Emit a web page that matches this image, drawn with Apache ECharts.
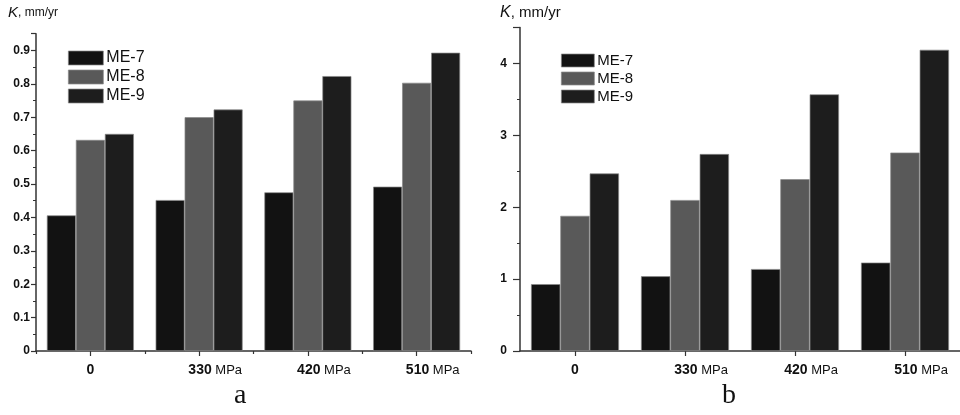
<!DOCTYPE html>
<html>
<head>
<meta charset="utf-8">
<script src="https://cdn.jsdelivr.net/npm/echarts@6/dist/echarts.min.js"></script>
<style>
  html, body { margin: 0; padding: 0; background: #fff; }
  #chart { width: 960px; height: 415px; }
</style>
</head>
<body>
<div id="chart"></div>
<script>
// categories (stress) and series values
const stressNumbers = ['0', '330', '420', '510'];
const seriesNames = ['ME-7', 'ME-8', 'ME-9'];

// panel a
const kA_me7 = [0.406, 0.452, 0.475, 0.492];
const kA_me8 = [0.632, 0.700, 0.750, 0.803];
const kA_me9 = [0.650, 0.723, 0.823, 0.893];

// panel b
const kB_me7 = [0.93, 1.04, 1.14, 1.23];
const kB_me8 = [1.88, 2.10, 2.39, 2.76];
const kB_me9 = [2.47, 2.74, 3.57, 4.19];

const colors = ['#121212', '#595959', '#1d1d1d'];

const chart = echarts.init(document.getElementById('chart'));

const labelFormatter = (v) => v === '0' ? '{b|0}' : '{sp| }{b|' + v + '}{m| MPa}';

const makeXAxis = (gridIndex, fs, ticksAtCenter) => ({
    type: 'category',
    gridIndex: gridIndex,
    position: 'bottom',
    data: stressNumbers,
    axisLine: { lineStyle: { color: '#333', width: 1.5 } },
    axisTick: { show: true, alignWithLabel: ticksAtCenter, length: ticksAtCenter ? 5 : 3, lineStyle: { color: '#333', width: 1.2 } },
    axisLabel: {
        interval: 0,
        margin: 12,
        formatter: labelFormatter,
        rich: {
            sp: { width: fs * 2.3, fontSize: fs - 1 },
            b: { fontFamily: 'Liberation Sans', fontWeight: 'bold', fontSize: fs, color: '#111' },
            m: { fontFamily: 'Liberation Sans', fontSize: fs - 1, color: '#111' }
        }
    }
});

const makeYAxis = (gridIndex, max, interval, labelMargin, tickLen, fs) => ({
    type: 'value',
    gridIndex: gridIndex,
    min: 0,
    max: max,
    interval: interval,
    axisLine: { show: true, lineStyle: { color: '#333', width: 1.5 } },
    axisTick: { show: true, length: tickLen, lineStyle: { color: '#333', width: 1.2 } },
    minorTick: { show: true, splitNumber: 2, length: 3, lineStyle: { color: '#333', width: 1 } },
    splitLine: { show: false },
    axisLabel: {
        showMaxLabel: false,
        margin: labelMargin,
        fontFamily: 'Liberation Sans',
        fontWeight: 'bold',
        fontSize: fs,
        color: '#111'
    }
});

const barSeries = (name, data, idx, axisIndex) => ({
    name: name,
    type: 'bar',
    xAxisIndex: axisIndex,
    yAxisIndex: axisIndex === 0 ? 0 : 1,
    data: data,
    barGap: '0%',
    barCategoryGap: '20%',
    itemStyle: { color: colors[idx], borderColor: '#8a8a8a', borderWidth: 0.7 }
});

const option = {
    animation: false,
    color: colors,
    grid: [
        { left: 36, top: 33.7, width: 435, height: 317.3 },
        { left: 520, top: 27.5, width: 440, height: 323.5 }
    ],
    xAxis: [
        makeXAxis(0, 14, false),
        makeXAxis(1, 14, true),
        // extra centre ticks for panel a
        {
            type: 'category',
            gridIndex: 0,
            position: 'bottom',
            offset: 0,
            data: stressNumbers,
            axisLine: { show: false },
            axisTick: { show: true, alignWithLabel: true, length: 5, lineStyle: { color: '#333', width: 1.2 } },
            axisLabel: { show: false }
        }
    ],
    yAxis: [
        makeYAxis(0, 0.95, 0.1, 6, 5, 12),
        makeYAxis(1, 4.5, 1, 13, 7, 12)
    ],
    legend: [
        {
            orient: 'vertical',
            left: 63,
            top: 45,
            itemWidth: 35,
            itemHeight: 14,
            itemGap: 3,
            icon: 'rect',
            data: seriesNames,
            textStyle: { fontFamily: 'Liberation Sans', fontSize: 16, color: '#111', padding: [0, 0, 0, -2] },
            itemStyle: { borderColor: '#8a8a8a', borderWidth: 0.7 }
        },
        {
            orient: 'vertical',
            left: 556,
            top: 48,
            itemWidth: 33,
            itemHeight: 13,
            itemGap: 3,
            icon: 'rect',
            data: seriesNames,
            textStyle: { fontFamily: 'Liberation Sans', fontSize: 15, color: '#111', padding: [0, 0, 0, -2] },
            itemStyle: { borderColor: '#8a8a8a', borderWidth: 0.7 }
        }
    ],
    graphic: [
        {
            type: 'text', left: 8, top: 5,
            style: {
                text: '{k|K}{u|, mm/yr}',
                rich: {
                    k: { fontFamily: 'Liberation Sans', fontStyle: 'italic', fontSize: 15, fill: '#111' },
                    u: { fontFamily: 'Liberation Sans', fontSize: 12, fill: '#111' }
                }
            }
        },
        {
            type: 'text', left: 500, top: 5,
            style: {
                text: '{k|K}{u|, mm/yr}',
                rich: {
                    k: { fontFamily: 'Liberation Sans', fontStyle: 'italic', fontSize: 16, fill: '#111' },
                    u: { fontFamily: 'Liberation Sans', fontSize: 15, fill: '#111' }
                }
            }
        },
        {
            type: 'text', left: 234, top: 382,
            style: { text: 'a', fontFamily: 'Liberation Serif', fontSize: 28, fill: '#111' }
        },
        {
            type: 'text', left: 722, top: 382,
            style: { text: 'b', fontFamily: 'Liberation Serif', fontSize: 28, fill: '#111' }
        }
    ],
    series: [
        barSeries('ME-7', kA_me7, 0, 0),
        barSeries('ME-8', kA_me8, 1, 0),
        barSeries('ME-9', kA_me9, 2, 0),
        barSeries('ME-7', kB_me7, 0, 1),
        barSeries('ME-8', kB_me8, 1, 1),
        barSeries('ME-9', kB_me9, 2, 1)
    ]
};

chart.setOption(option);
</script>
</body>
</html>
